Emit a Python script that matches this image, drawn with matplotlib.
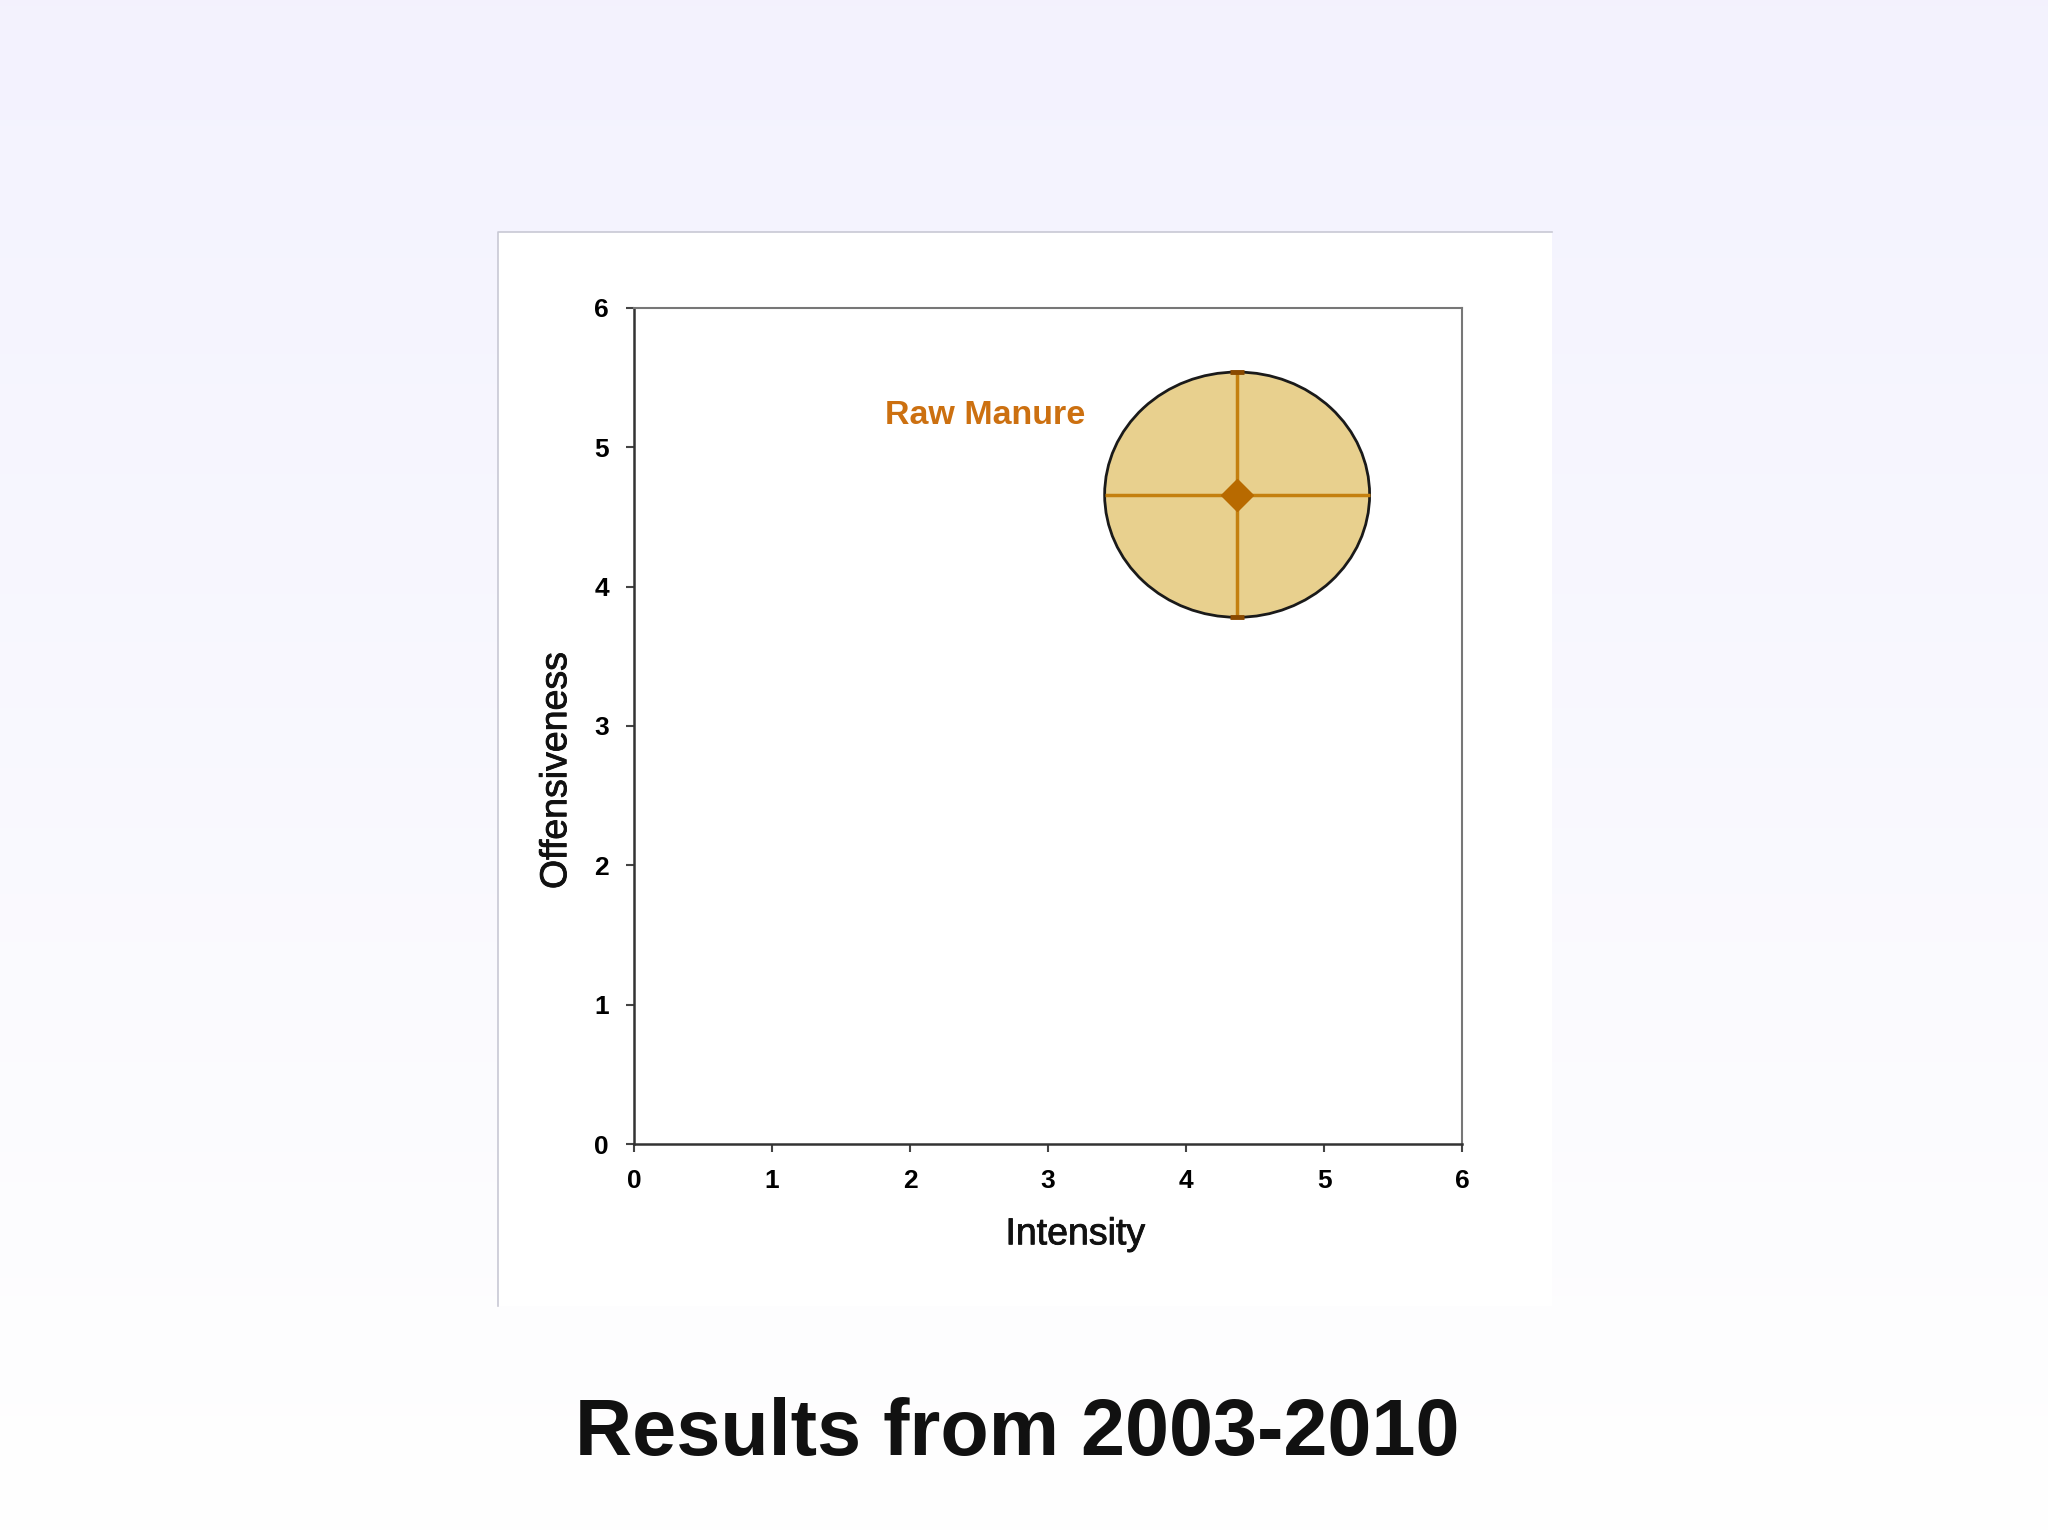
import numpy as np
import matplotlib.pyplot as plt
import matplotlib.patheffects as pe
from matplotlib.patches import Ellipse, Rectangle

# data
labels = ['Raw Manure']
intensity = [4.37]
offensiveness = [4.66]
intensity_err = [0.96]
offensiveness_err = [0.88]
ticks = [0, 1, 2, 3, 4, 5, 6]
title = 'Results from 2003-2010'

plt.rcParams['font.family'] = ['Liberation Sans', 'DejaVu Sans']

fig = plt.figure(figsize=(20.48, 15.36), dpi=100)

# slide background: pale lavender fading to white
bg = fig.add_axes([0, 0, 1, 1], zorder=-2)
grad = np.linspace(0, 1, 256).reshape(-1, 1)
top = np.array([0.953, 0.949, 0.996])
bot = np.array([1.0, 1.0, 1.0])
img = top[None, None, :] * (1 - grad[:, :, None]) + bot[None, None, :] * grad[:, :, None]
bg.imshow(img, aspect='auto', extent=[0, 1, 0, 1], origin='upper')
bg.set_axis_off()

# white chart panel (only left/top edges visible in the slide)
fig.patches.append(Rectangle((0.2432, 0.1497), 0.5146, 0.6993, transform=fig.transFigure,
                             facecolor='white', edgecolor='none', zorder=-1))
fig.lines.append(plt.Line2D([0.2432, 0.2432, 0.7578], [0.1497, 0.849, 0.849],
                            transform=fig.transFigure, color='#c8c8d4', linewidth=1.2))

ax = fig.add_axes([0.3096, 0.2552, 0.4043, 0.5443])
ax.set_xlim(0, 6)
ax.set_ylim(0, 6)
ax.set_xticks(ticks)
ax.set_yticks(ticks)
ax.set_xticklabels([str(t) for t in ticks], fontweight='bold', fontsize=19)
ax.set_yticklabels([str(t) for t in ticks], fontweight='bold', fontsize=19)
ax.tick_params(direction='out', length=6, width=1.5, color='#444444', pad=12)
for side in ['left', 'bottom']:
    ax.spines[side].set_color('#333333')
    ax.spines[side].set_linewidth(1.8)
for side in ['top', 'right']:
    ax.spines[side].set_color('#777777')
    ax.spines[side].set_linewidth(1.5)

for x, y, xe, ye, lab in zip(intensity, offensiveness, intensity_err, offensiveness_err, labels):
    ax.add_patch(Ellipse((x, y), 2 * xe, 2 * ye, facecolor='#e8d08e',
                         edgecolor='#1a1a1a', linewidth=2, zorder=2))
    ax.errorbar(x, y, xerr=xe, yerr=ye, fmt='D', color='#c4800f', ecolor='#c4800f',
                markerfacecolor='#b86a00', markeredgecolor='#b86a00', markersize=16,
                elinewidth=2.5, capsize=0, zorder=3)
    # small dark caps on the vertical bar only
    ax.errorbar(x, y, yerr=ye, fmt='none', ecolor='#8a4a00', elinewidth=0,
                capsize=5, capthick=3.5, zorder=4)
    ax.text(x - 1.1, y + 0.57, lab, color='#cc7010', fontsize=24.5, fontweight='bold',
            ha='right', va='center')

thick = [pe.withStroke(linewidth=0.6, foreground='#111111')]
ax.set_xlabel('Intensity', fontsize=27, color='#111111', path_effects=thick)
ax.set_ylabel('Offensiveness', fontsize=27, color='#111111', path_effects=thick)
ax.xaxis.set_label_coords(0.533, -0.108)
ax.yaxis.set_label_coords(-0.094, 0.447)
ax.xaxis.label.set_va('center')
ax.yaxis.label.set_va('center')

fig.text(0.4965, 0.066, title, fontsize=57, fontweight='bold', ha='center', va='center',
         color='#111111')

fig.savefig('out.png', dpi=100)
